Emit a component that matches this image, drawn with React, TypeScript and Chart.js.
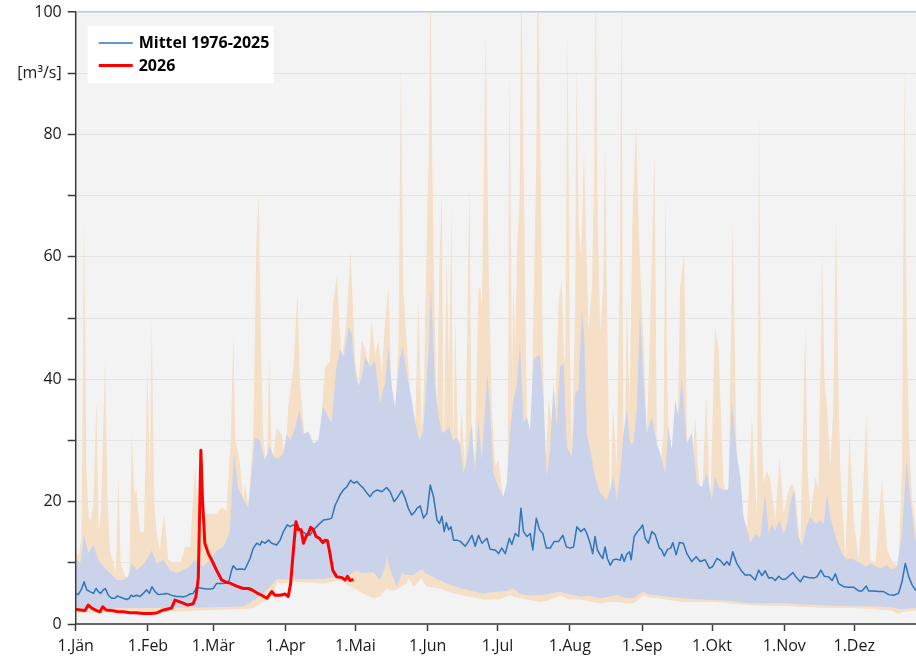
import React, { useEffect, useRef } from 'react';
import { Chart, registerables } from 'chart.js';

Chart.register(...registerables);

// x axis: day of year (0 = 1. Jänner)
const monthStarts = [0, 31, 59, 90, 120, 151, 181, 212, 243, 273, 304, 334];
const monthLabels = ['1.Jän', '1.Feb', '1.Mär', '1.Apr', '1.Mai', '1.Jun', '1.Jul', '1.Aug', '1.Sep', '1.Okt', '1.Nov', '1.Dez'];
const yMajorLabels: Record<number, string> = { 0: '0', 20: '20', 40: '40', 60: '60', 80: '80', 90: '[m³/s]', 100: '100' };

// [day, m³/s]
const maxQ: [number, number][] = [
  [0,12.6],[1.2,11],[2.5,14],[3.6,66],[4.6,25],[5.6,17.5],[6.6,17],[7.6,20],[8.9,36.6],[9.8,15],[10.8,18],[12.6,43],[13.7,20],[14.7,12],[15.9,10.5],[17.2,8.3],[18.3,24],[19.3,10],[20.7,8.3],[22.1,7.2],[23.1,8.8],[24,31],[25.3,21],[26.1,22],[27.6,15],[29.3,15],[30.8,42],[31.8,22],[32.6,50],[33.7,20],[34.7,15],[36.1,12],[37.9,18],[39.7,10.5],[41.9,10],[44.9,10],[47,12.6],[49.1,12.6],[51.2,25.7],[52.6,17.5],[54.7,15],[56,18],[58.1,18],[60.4,18],[62.6,19],[64.7,18.5],[66.5,30],[67.6,47],[68.5,30],[69.7,28],[70.5,26],[72,20],[72.6,23],[74.1,19.2],[76.2,31],[77.5,62],[78.5,70],[79.5,45],[80.5,30],[82,25],[83,44],[84.1,25.7],[86.2,32],[88.4,31],[89.8,25.7],[91.2,35.5],[93.4,42],[95.1,54],[96.3,38.8],[98.4,30],[100.5,31.2],[102.7,26.3],[104.1,24],[105.5,33.9],[107,42],[109.1,43],[110.6,53],[112.1,57],[114.1,42.6],[116.3,50.2],[117.9,61],[119.9,43],[121.3,38.8],[122.7,46.4],[124.1,45],[125.6,42],[127,49.7],[128.4,44],[129.9,46.4],[131.3,41],[132.7,49.1],[134.2,55],[135.6,36.6],[137,33.9],[138.5,45.9],[139.5,91.6],[140.5,55],[141.3,50],[142.7,42],[144.2,34.4],[145.6,31.2],[147,53],[148.5,31],[149.5,40],[150.6,62],[151.6,80],[152.2,106],[153,75],[154,50],[155,33.3],[156.2,61],[157.1,70.4],[157.8,25.7],[159.2,60],[160.2,40],[161.2,68.2],[161.9,26.8],[162.8,50],[164.2,25.2],[165.6,35],[167.1,24.6],[168.9,72],[170,24.6],[171.4,28.4],[172.8,54.6],[173.5,55.1],[174.3,51.9],[175.9,96.5],[177.1,60],[178.5,35],[180,25.7],[181.4,26.8],[182.8,22.4],[184.3,18.6],[185.3,20],[186.1,91],[187.2,40],[187.8,56],[188.6,45],[189.4,62],[190.5,70],[191.1,108],[192,80],[192.8,55],[193.6,33.3],[195.3,26.8],[196.7,58],[197.6,75],[198.2,110],[199.3,80],[200.2,50],[201.4,24],[202.9,36.6],[204.3,33],[205.7,33.5],[207.2,53],[208.5,56],[209.5,44],[210,42],[211,97],[212,45],[212.9,26.8],[214.3,53],[214.8,91.3],[215.8,65],[216.8,60],[218.1,76.9],[219,62],[220,48],[221.5,55],[222.5,75],[223.1,108],[223.8,70],[225,47.5],[226.3,55],[227.1,78.5],[228,50],[229.3,17.5],[230.5,35.5],[232.1,25.7],[233.5,60],[234.1,105],[234.7,50],[235.2,15.9],[236.4,53],[237.6,35],[238.8,65],[240.4,81.8],[241.5,65],[242.2,58],[243.6,46.4],[245,30],[246.2,45],[247.2,60],[248.3,76.9],[249.3,29.5],[250.7,25.7],[252.2,31],[253,70.9],[253.8,40],[255,20.3],[257.9,24],[259.3,55],[261,60.6],[262.2,31],[263.6,19.2],[265.8,33.9],[267,25.7],[268.6,19],[270.5,37.7],[272.2,18.1],[274.3,48.6],[275.8,45],[277.9,23],[280,20.3],[281.9,66],[283.6,25.7],[285.8,17.5],[287.9,14.8],[290.1,33.9],[291.2,25],[292.3,17.5],[293.2,83.4],[294,35],[295.1,23],[296.5,25],[298,23.5],[300.1,17],[302,27.3],[303.7,18],[305.9,21.9],[307.3,23],[308.7,21.4],[310.9,12.6],[313,48.6],[314,25],[315.2,17.5],[317.3,24],[318.7,22],[320.2,60.6],[321.2,40],[322.3,35.5],[323.7,25.7],[325,35],[326.2,66.6],[327.2,38],[328,25.7],[330.2,10.5],[332,31.2],[333.8,17],[335.9,10.5],[337.5,20],[339.2,33.9],[340.9,10.5],[343.1,9.9],[345.9,23.5],[348.1,12.1],[350.9,9.9],[353.1,9.4],[354.5,25.7],[355.5,91.6],[356.5,50],[357.4,31],[358.8,20.3],[360.7,14.8],[362,14]
];

const upperQ: [number, number][] = [
  [0,10.5],[2,10],[3.6,14.5],[5.4,11.5],[7.6,13],[9.7,10.5],[11.9,9.4],[14.7,8.3],[17.6,7.2],[20.4,7.2],[22.6,7.8],[24,10],[26.1,8.8],[28.5,9.5],[30.4,10.5],[32.6,12],[34.7,9.9],[37.6,10.5],[40.4,8.8],[43.3,8.3],[46.1,8.8],[49,9.4],[51.1,10.5],[54.7,9.4],[57.6,10.5],[60.4,12],[63.3,12.6],[66.1,15],[67.9,28],[69.7,22],[71.9,20.5],[74,19],[76.9,30.6],[79.1,30],[81,26.8],[83.4,29],[85,27.3],[87,27],[89,27.8],[90.5,31],[92,30],[94.1,32],[96,35],[97.7,31],[99.8,31.5],[101.9,29.5],[104.1,30],[106,35.5],[107.7,34.4],[109.8,32.8],[111.7,41.5],[113.4,44.8],[115.1,43.7],[117,48.6],[118.4,47.5],[119.9,41],[121.3,38.8],[122.7,40.4],[124.2,43.7],[126.3,42],[128.4,43],[130.6,36],[132.7,39.3],[134.2,45.3],[135.6,38.8],[137,35.5],[138.9,43.1],[140.3,45.3],[142,41],[144.2,36.6],[145.6,33],[147.5,30],[149,31.5],[150,36.6],[151.4,44.8],[152.4,55],[154.2,38.8],[155.7,33.9],[157.1,31.2],[158.5,31.5],[160.4,32.2],[161.8,30],[163.2,30.5],[164.9,29.5],[166.3,24.6],[167.8,26.8],[169.9,32.8],[171.3,24.6],[172.8,33.3],[174.2,26.8],[175.6,35],[176.6,41],[177.8,35],[179.2,24.6],[181.4,22.4],[183.5,20.8],[184.9,23],[186.4,31.7],[187.8,36.6],[189.2,38.8],[190.6,45.9],[192.1,32.8],[193.5,33.9],[194.9,31.7],[196.4,43.1],[197.8,43.7],[199.2,44],[200.7,36.6],[202.1,24.1],[203.5,28.4],[205,39.3],[206.4,32.2],[207.8,42],[209.3,42.6],[210.7,29],[212.8,27.3],[214.3,37.7],[215.7,38.2],[217.1,51.3],[218.1,47.5],[219.3,31.2],[221,27.9],[222.8,24.1],[225,21.4],[227.8,20.3],[229.3,22],[230.7,24.1],[232.1,20.3],[233.6,24.6],[235,31.2],[236.4,35],[237.9,29.5],[239.3,29.5],[240.7,35],[242.1,51.3],[243.5,40.4],[245,31.2],[247.1,33.9],[249.3,29.5],[250.7,27.9],[252.9,24.6],[254.3,32.2],[255.7,28.4],[257.2,36.6],[258.6,33.9],[260,40.4],[262.2,29.5],[264.3,31.2],[266.5,23],[268.6,22.4],[270.8,24.6],[272.9,20.3],[274.3,24.1],[275.8,22.4],[277.9,21.9],[280,22],[281.5,36.6],[283.6,27.9],[285.1,24],[286.5,17.5],[288.5,14.8],[289.4,13.2],[291.5,14.8],[293.7,14],[295.8,21.4],[297.3,14.8],[298.7,16.4],[300.1,15.2],[301.9,17],[303.7,14.8],[305.2,16.4],[306.9,20.3],[308.3,21.9],[309.7,14.8],[311.6,12.6],[313.4,15.9],[315.2,17.5],[317.3,16.4],[319.4,17],[320.9,16.4],[322.3,21.4],[323.7,17.5],[325.2,15.4],[326.9,13.2],[328.7,11.5],[330.9,10.5],[333,10.8],[334.9,10.2],[337,9.9],[338.8,9.4],[341,9.9],[343.1,9.4],[345,9.1],[348.1,9.6],[350.2,8.8],[352.3,9.4],[354.5,14.8],[356.4,26.8],[358.1,20.3],[360.2,13.7],[362,11]
];

const lowerQ: [number, number][] = [
  [0,2.5],[10,2.5],[25,2.6],[39,2.6],[53,2.7],[67.6,2.8],[72,2.9],[74.5,3.4],[76.2,3.9],[79,4.5],[83.4,6.1],[86.2,7.3],[92,7.3],[99,7.3],[106.3,7.4],[113.4,7.7],[117.5,8],[120.6,8.8],[122.5,8.3],[127.7,8.5],[130.6,7.2],[132.5,9],[133.4,11],[134.5,9.4],[137.7,6.1],[140,8.3],[142,8],[144.9,8],[146.5,8.5],[148.5,8.9],[150,8.3],[153.5,7.7],[157,7],[160.7,6.4],[164,6],[167.8,5.6],[171,5.3],[175,5],[178.5,5.2],[182.1,5.3],[185,5.4],[187.8,5.8],[190.5,5],[193.6,4.7],[199.3,4.7],[204,5],[207.9,5.3],[212,4.8],[216.5,4.5],[220,4.6],[225,4.2],[229,4.5],[232.2,4.7],[236,4.3],[239.3,4.2],[241.5,4.8],[243.6,5.3],[246,4.8],[249.4,4.7],[255,4.4],[260.8,4.2],[268,4],[275.1,3.9],[282,3.7],[289.4,3.4],[296,3.4],[303.7,3.4],[311,3.2],[318,3.1],[325,3],[332.3,2.9],[340,2.9],[346.6,2.8],[350.5,2.7],[353.8,2.4],[356,2.5],[360.7,2.6],[362,2.6]
];

const minQ: [number, number][] = [
  [0,1.85],[10,1.85],[25,1.9],[39,2],[53,2.2],[67.6,2.4],[72,2.4],[76.2,2.6],[80,3.5],[82,3.9],[84.8,5],[86.5,6.9],[88,6.6],[89.1,6.6],[93.4,6.9],[99.1,6.8],[106.3,6.6],[110,6.9],[113.4,7.2],[116.3,6.4],[118.5,6],[120.6,5.6],[122.7,5.1],[124.9,4.7],[127.7,4.2],[130.6,4.5],[133.4,5.8],[135.5,5.5],[137.7,5.6],[140,6.2],[142,6.6],[143,7.5],[144.9,6.1],[146.5,6.6],[148.2,7.5],[150.6,6.1],[153,6],[156.4,5.8],[159,5.4],[162.1,5],[165,4.8],[167.8,4.5],[171,4.3],[175,4],[178.5,4],[182.1,4.1],[186.4,4.7],[188.5,4.4],[193.6,4],[199.3,3.6],[203,3.9],[207.9,4.7],[211,4],[216.5,4],[220,3.7],[225,3.4],[229,3.6],[232.2,3.6],[236,3.4],[239.3,3.4],[241.5,4],[243.6,4.7],[246,4.3],[250.8,4.2],[255,3.9],[260.8,3.6],[268,3.6],[275.1,3.6],[282,3.3],[289.4,3.1],[296,3],[303.7,3],[311,2.8],[318,2.7],[325,2.6],[332.3,2.6],[340,2.5],[346.6,2.3],[350,2.2],[353.1,1.6],[355,2],[360.7,2.2],[362,2.2]
];

const meanQ: [number, number][] = [
  [0,5.0],[1.1,4.8],[2.6,5.8],[3.6,6.9],[4.7,5.6],[6.1,5.3],[7.6,5.0],[8.7,5.8],[9.7,5.3],[10.7,5.0],[11.9,5.6],[12.7,5.8],[14,4.7],[15.4,4.2],[16.9,4.2],[17.9,4.6],[19,4.4],[20.4,4.2],[21.9,4.0],[23,4.2],[23.7,4.7],[24.7,4.5],[26.1,4.7],[27.6,4.5],[29,5.0],[30.4,5.6],[31.6,5.0],[32.7,6.1],[34,5.3],[35.4,4.8],[37.6,4.9],[39,5.0],[40.4,4.8],[41.9,4.6],[43.3,4.5],[44.7,4.5],[46.1,4.4],[47.6,4.6],[49,4.9],[50.4,5.0],[51.9,6.0],[53.3,5.9],[54.7,5.8],[56.1,5.7],[57.6,5.7],[59,5.8],[60.4,6.6],[61.9,6.6],[63.3,6.6],[64.7,6.7],[65.9,7.2],[66.9,8.8],[67.6,9.5],[69,8.9],[70.4,9.0],[72.6,8.9],[74.8,10.7],[76.2,12.4],[77.7,13.2],[79.1,12.9],[79.8,13.5],[81.2,13.2],[82.7,13.7],[84.1,13.2],[86.2,12.9],[87.7,13.7],[89.1,15.1],[90.8,16.2],[92,15.9],[93.4,16.2],[94.8,15.6],[96.3,15.4],[98.4,14.8],[100.5,14.5],[102,15.4],[104.1,16.2],[106.3,17.0],[108.4,17.1],[109.8,17.3],[111.3,19.4],[112.7,20.5],[113.4,21.1],[114.8,21.9],[116.3,22.4],[118,23.5],[119.4,23.0],[120.6,23.3],[122,22.7],[123.4,22.2],[124.9,21.4],[126.3,20.8],[127.7,21.6],[129.4,21.9],[131.3,21.6],[133.4,22.3],[134.9,21.6],[136.6,20.0],[137.7,20.5],[139.9,21.8],[141.3,20.6],[142.7,18.9],[144.2,17.8],[145.6,18.4],[146.4,18.9],[147.8,19.3],[149.2,17.3],[150.7,18.1],[152.1,22.7],[153.5,20.8],[155,17.0],[156.1,16.4],[157.1,17.6],[158.1,15.1],[159,16.6],[160,15.4],[161,15.9],[162.1,13.7],[163.5,13.7],[165,13.5],[167.1,12.7],[168.5,13.5],[170,14.5],[171.4,12.7],[172.8,14.5],[174.3,13.2],[176.4,14.0],[177.8,12.2],[180,12.1],[181.4,11.5],[182.8,12.4],[184.3,11.5],[186,14.0],[187.1,13.0],[188.6,14.8],[190,14.3],[191,18.9],[192.1,15.1],[193.6,14.3],[195,14.8],[196.1,12.1],[197.6,17.3],[199,15.4],[200.4,14.8],[201.9,12.4],[203.6,12.4],[205.3,13.5],[207.2,13.5],[209,14.5],[210.5,12.6],[212.2,12.4],[213.6,12.6],[215,15.9],[216.7,15.1],[218.2,15.6],[219.3,14.8],[220.7,13.2],[221.8,11.5],[222.8,14.3],[223.8,12.1],[225,11.3],[226.1,10.7],[227.1,12.6],[228.1,10.7],[229.3,9.6],[230.7,10.5],[232.1,10.6],[233.6,10.4],[234.3,11.4],[235.3,10.2],[236.4,11.4],[237.6,11.8],[238.3,10.5],[239.6,14.3],[241,15.1],[242.2,15.6],[243.2,16.2],[244.3,14.0],[245.7,13.2],[247.2,15.1],[248.6,14.6],[250.4,12.4],[251.4,12.1],[252.5,11.1],[253.9,12.2],[255.3,12.4],[256.2,13.3],[257.6,11.3],[259,13.3],[260.7,13.2],[262.2,11.5],[264.3,10.2],[266.2,11.0],[267.9,10.2],[270,10.5],[271.9,9.1],[273.3,9.4],[275.1,10.7],[276.5,10.4],[278.2,9.6],[279.3,10.2],[280.5,9.6],[281.9,11.8],[283.6,9.9],[285.4,8.8],[287.2,8.0],[289.4,8.0],[291.5,7.2],[293,8.8],[294.4,7.9],[295.8,8.7],[297.3,7.5],[298.7,7.6],[300.1,7.1],[301.6,7.8],[303,7.3],[304.4,7.3],[305.9,7.8],[307.7,8.4],[309.4,7.5],[310.9,6.9],[312.3,7.8],[314.4,7.6],[316.6,7.5],[318,7.7],[319.7,8.8],[321.2,7.8],[323,7.7],[324.5,7.1],[325.9,8.2],[327.3,6.6],[329.5,6.1],[331.6,6.0],[333.8,6.0],[335.9,5.4],[337.3,5.4],[339.2,6.2],[340.2,5.4],[342.3,5.4],[344.5,5.3],[346.6,5.3],[348.8,4.8],[350.9,4.7],[353,5.0],[354.5,6.9],[355.9,9.9],[357.4,7.7],[358.8,6.4],[360.2,5.6],[362,5.2]
];

const q2026: [number, number][] = [
  [0,2.4],[1.9,2.3],[4,2.2],[5.4,3.1],[6.9,2.6],[9,2.2],[10.4,2.0],[11.6,2.8],[13,2.3],[15.4,2.2],[18.3,2.0],[20.4,2.0],[23.3,1.85],[26,1.85],[29,1.7],[31.9,1.7],[34.7,1.8],[36.9,2.2],[39,2.4],[41.1,2.6],[42.6,3.9],[44.1,3.7],[46.1,3.4],[48.1,3.1],[50.4,3.3],[51.6,4.5],[52.6,7.5],[53.7,28.4],[54.4,20.3],[55.4,13.2],[56.9,11.5],[58.3,10.5],[60.4,8.8],[62.6,7.2],[64.7,6.8],[66.1,6.7],[69,6.2],[71.9,5.8],[74.1,5.8],[75.5,5.6],[77.7,5.1],[79.8,4.7],[82,4.2],[84.1,5.3],[85.5,4.7],[87.7,4.7],[89.8,4.9],[91.2,4.5],[92.2,6.6],[93.4,12.1],[94.5,16.7],[95.5,15.4],[96.7,15.4],[97.7,13.2],[98.8,14.3],[99.8,14.8],[100.8,15.8],[102,15.4],[103.1,14.3],[104.6,14.0],[106,13.3],[107,13.7],[108,13.6],[108.8,12.1],[110.3,8.8],[112,7.7],[114.1,7.6],[115.6,7.2],[116.6,7.8],[117.7,7.1],[119.1,7.3]
];

const COLORS = {
  plotBg: '#f2f3f2',
  orange: '#f5dfc6',
  blueBand: '#cbd3ea',
  mean: '#2e75b6',
  red: '#ff0000',
  axis: '#3a3a3a',
  grid: '#e3e4e3',
  topLine: '#b5cce4',
  text: '#1a1a1a',
};
const FONT = "'Open Sans', 'DejaVu Sans', sans-serif";

const toPts = (s: [number, number][]) => s.map(([x, y]) => ({ x, y }));

const bgPlugin = {
  id: 'plotBg',
  beforeDraw(chart: any) {
    const { ctx, chartArea: a } = chart;
    ctx.save();
    ctx.fillStyle = COLORS.plotBg;
    ctx.fillRect(a.left, a.top, a.right - a.left, a.bottom - a.top);
    ctx.restore();
  },
};

const axisPlugin = {
  id: 'axisLines',
  afterDatasetsDraw(chart: any) {
    const { ctx, chartArea: a } = chart;
    ctx.save();
    ctx.strokeStyle = COLORS.axis;
    ctx.lineWidth = 1.5;
    ctx.beginPath();
    ctx.moveTo(a.left, a.top);
    ctx.lineTo(a.left, a.bottom);
    ctx.lineTo(a.right, a.bottom);
    ctx.stroke();
    ctx.restore();
  },
};

const legendPlugin = {
  id: 'insideLegend',
  afterDraw(chart: any) {
    const { ctx, chartArea: a } = chart;
    const items = chart.data.datasets
      .filter((d: any) => d.legendRank !== undefined)
      .sort((p: any, q: any) => p.legendRank - q.legendRank);
    const x0 = a.left + 12;
    const y0 = a.top + 14;
    ctx.save();
    ctx.fillStyle = '#ffffff';
    ctx.fillRect(x0, y0, 186, 57);
    ctx.font = `bold 16px ${FONT}`;
    ctx.textBaseline = 'middle';
    items.forEach((d: any, i: number) => {
      const y = y0 + 17 + i * 22.5;
      ctx.strokeStyle = d.borderColor;
      ctx.lineWidth = d.borderWidth;
      ctx.beginPath();
      ctx.moveTo(x0 + 11, y);
      ctx.lineTo(x0 + 45, y);
      ctx.stroke();
      ctx.fillStyle = '#000000';
      ctx.fillText(d.label, x0 + 51, y + 0.5);
    });
    ctx.restore();
  },
};

export default function App() {
  const ref = useRef<HTMLCanvasElement>(null);

  useEffect(() => {
    if (!ref.current) return;
    const band = (label: string, s: [number, number][], color: string, order: number) => ({
      label,
      data: toPts(s),
      borderWidth: 0,
      borderColor: 'rgba(0,0,0,0)',
      backgroundColor: color,
      pointRadius: 0,
      fill: 'origin',
      tension: 0,
      order,
    });
    const chart = new Chart(ref.current, {
      type: 'line',
      data: {
        datasets: [
          {
            label: '2026',
            data: toPts(q2026),
            borderColor: COLORS.red,
            borderWidth: 3,
            pointRadius: 0,
            fill: false,
            tension: 0,
            borderJoinStyle: 'round',
            order: 0,
            legendRank: 1,
          } as any,
          {
            label: 'Mittel 1976-2025',
            data: toPts(meanQ),
            borderColor: COLORS.mean,
            borderWidth: 1.5,
            pointRadius: 0,
            fill: false,
            tension: 0,
            borderJoinStyle: 'round',
            order: 1,
            legendRank: 0,
          } as any,
          band('Minimum', minQ, COLORS.plotBg, 2),
          band('unterer Bereich', lowerQ, COLORS.orange, 3),
          band('oberer Bereich', upperQ, COLORS.blueBand, 4),
          band('Maximum', maxQ, COLORS.orange, 5),
        ],
      },
      options: {
        animation: false,
        responsive: false,
        devicePixelRatio: 1,
        layout: { padding: { top: 12, left: 0, right: 0, bottom: 0 } },
        plugins: { legend: { display: false }, tooltip: { enabled: false } },
        scales: {
          x: {
            type: 'linear',
            min: 0,
            max: 360.5,
            afterBuildTicks: (scale: any) => {
              scale.ticks = monthStarts.map((v) => ({ value: v }));
            },
            afterFit: (scale: any) => {
              scale.height = 36;
              scale.paddingLeft = 0;
              scale.paddingRight = 0;
            },
            ticks: {
              autoSkip: false,
              maxRotation: 0,
              padding: 6,
              color: COLORS.text,
              font: { family: FONT, size: 16 },
              callback: (v: any) => {
                const i = monthStarts.indexOf(Number(v));
                return i >= 0 ? monthLabels[i] : '';
              },
            },
            grid: {
              drawOnChartArea: false,
              drawTicks: true,
              tickLength: 7,
              tickColor: COLORS.axis,
              tickWidth: 1.5,
            },
            border: { display: false },
          },
          y: {
            type: 'linear',
            min: 0,
            max: 100,
            afterFit: (scale: any) => {
              scale.width = 75.7;
              scale.paddingTop = 0;
              scale.paddingBottom = 0;
            },
            ticks: {
              stepSize: 10,
              padding: 6,
              color: COLORS.text,
              font: { family: FONT, size: 16 },
              callback: (v: any) => yMajorLabels[Number(v)] ?? '',
            },
            grid: {
              color: (c: any) => (c.tick && c.tick.value === 100 ? COLORS.topLine : COLORS.grid),
              lineWidth: (c: any) => (c.tick && c.tick.value === 100 ? 1.5 : 1),
              drawTicks: true,
              tickLength: 8,
              tickColor: COLORS.axis,
              tickWidth: 1.5,
            },
            border: { display: false },
          },
        },
      } as any,
      plugins: [bgPlugin, axisPlugin, legendPlugin],
    });
    return () => chart.destroy();
  }, []);

  return (
    <div style={{ position: 'fixed', left: 0, top: 0, width: 916, height: 660, background: '#ffffff' }}>
      <canvas ref={ref} width={916} height={660} style={{ display: 'block', width: 916, height: 660 }} />
    </div>
  );
}
